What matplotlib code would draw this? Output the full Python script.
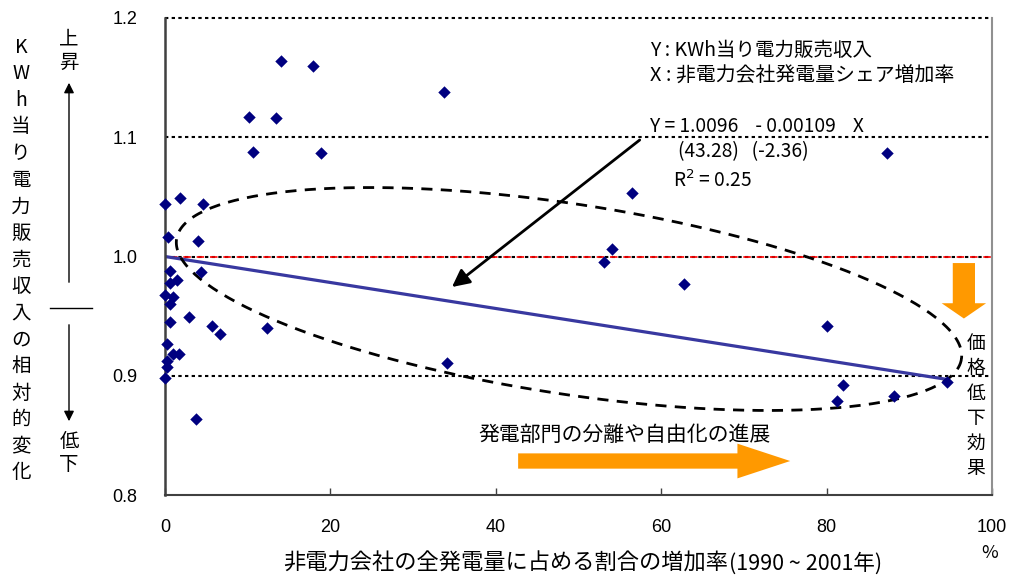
import numpy as np
import matplotlib
matplotlib.use("Agg")
import matplotlib.pyplot as plt
from matplotlib.lines import Line2D
from matplotlib.patches import FancyArrowPatch

plt.rcParams['font.family'] = ['Noto Sans CJK JP', 'DejaVu Sans']

# increase in non-utility share of generation (%), and relative revenue per kWh
share_increase = [0.0, 1.8, 4.6, 0.4, 4.0, 0.6, 4.4, 1.4, 0.6, 0.0, 1.0, 0.6,
                  0.6, 2.9, 5.7, 6.6, 0.2, 1.0, 1.7, 0.2, 0.2, 0.0, 3.8,
                  10.1, 13.4, 14.0, 17.9, 10.6, 18.9, 33.7, 12.3, 34.1,
                  53.1, 54.0, 56.5, 62.7, 80.0, 81.2, 82.0, 88.2, 87.3, 94.5]
revenue_ratio = [1.044, 1.049, 1.044, 1.016, 1.013, 0.988, 0.987, 0.980, 0.978, 0.968, 0.966, 0.960,
                 0.945, 0.949, 0.942, 0.935, 0.927, 0.918, 0.918, 0.912, 0.907, 0.898, 0.864,
                 1.117, 1.116, 1.164, 1.160, 1.088, 1.087, 1.138, 0.940, 0.911,
                 0.995, 1.006, 1.053, 0.977, 0.942, 0.879, 0.892, 0.883, 1.087, 0.895]

# regression result
intercept = 1.0096
slope = -0.00109
t_values = [43.28, -2.36]
r_squared = 0.25
line_base = 1.0

x_ticks = [0, 20, 40, 60, 80, 100]
y_ticks = [0.8, 0.9, 1.0, 1.1, 1.2]
y_tick_labels = ['0.8', '0.9', '1.0', '1.1', '1.2']

W, H = 1012, 578
fig = plt.figure(figsize=(W / 100, H / 100), dpi=100)

# axes box in pixels (left, top, right, bottom)
AX_L, AX_T, AX_R, AX_B = 165, 18, 992, 495
ax = fig.add_axes([AX_L / W, 1 - AX_B / H, (AX_R - AX_L) / W, (AX_B - AX_T) / H])
ax.set_xlim(0, 100)
ax.set_ylim(0.8, 1.2)
px_x = (AX_R - AX_L) / 100.0
px_y = (AX_B - AX_T) / 0.4


def fpos(x, y):
    return x / W, 1 - y / H


def ftext(x, y, s, **kw):
    kw.setdefault('ha', 'center')
    kw.setdefault('va', 'center')
    fig.text(*fpos(x, y), s, **kw)


# horizontal reference lines
for yv in [0.9, 1.0, 1.1, 1.2]:
    ax.axhline(yv, color='black', lw=1.5, ls=(0, (1.6, 1.6)), zorder=1, clip_on=False)
ax.plot([0.6, 100], [1.0, 1.0], color='red', lw=1.2, ls=(0, (4.5, 3.5)), zorder=1.5)

# fitted line
fit_x = np.array([0, max(share_increase)])
ax.plot(fit_x, line_base + slope * fit_x, color='#3838a0', lw=2.3, zorder=2)

# data points
ax.scatter(share_increase, revenue_ratio, marker='D', s=40, color='#000080',
           zorder=4, clip_on=False, linewidths=0)

# dashed ellipse around the spreading cluster
t = np.linspace(0, 2 * np.pi, 300)
a_px, b_px, ang = 397.0, 95.0, np.deg2rad(8.7)
u, v = a_px * np.cos(t), b_px * np.sin(t)
dx = u * np.cos(ang) - v * np.sin(ang)
dy = u * np.sin(ang) + v * np.cos(ang)
cx, cy = (569 - AX_L) / px_x, 0.8 + (AX_B - 299) / px_y
ax.plot(cx + dx / px_x, cy - dy / px_y, color='black', lw=2.0,
        ls=(0, (4, 3)), zorder=3, clip_on=False)

# black arrow from the equation to the fitted line
ax.annotate('', xy=(34.7, 0.9744), xytext=(57.4, 1.0977),
            arrowprops=dict(arrowstyle='-|>,head_length=0.7,head_width=0.35',
                            mutation_scale=15, color='black', lw=2.0,
                            shrinkA=0, shrinkB=0), zorder=5)

# orange arrows
orange = '#ff9900'
ax.annotate('', xy=(75.6, 0.8285), xytext=(42.7, 0.8285),
            arrowprops=dict(arrowstyle='simple,head_length=38,head_width=25,tail_width=11',
                            mutation_scale=1, color=orange, lw=0,
                            shrinkA=0, shrinkB=0), zorder=5)
ax.annotate('', xy=(96.6, 0.9480), xytext=(96.6, 0.9945),
            arrowprops=dict(arrowstyle='simple,head_length=11,head_width=32,tail_width=16',
                            mutation_scale=1, color=orange, lw=0,
                            shrinkA=0, shrinkB=0), zorder=5)

# axes styling
ax.spines['top'].set_visible(False)
ax.spines['left'].set_color('#404040')
ax.spines['left'].set_linewidth(1.8)
ax.spines['bottom'].set_color('#404040')
ax.spines['bottom'].set_linewidth(1.5)
ax.spines['right'].set_color('#909090')
ax.spines['right'].set_linewidth(1.5)
ax.set_xticks(x_ticks)
ax.set_yticks(y_ticks)
ax.set_yticklabels(y_tick_labels)
ax.tick_params(axis='x', direction='in', length=5, width=1, color='#404040',
               pad=17, labelsize=13)
ax.tick_params(axis='y', length=0, pad=20, labelsize=13)
for lab in ax.get_xticklabels() + ax.get_yticklabels():
    lab.set_family(['Liberation Sans', 'DejaVu Sans'])

# annotations inside the plot
ftext(624, 435, '発電部門の分離や自由化の進展', fontsize=15)
ftext(976, 406, '\n'.join('価格低下効果'), fontsize=13.5, linespacing=1.26)
ftext(650, 50, 'Y : KWh当り電力販売収入', fontsize=14, ha='left')
ftext(650, 76, 'X : 非電力会社発電量シェア増加率', fontsize=14.3, ha='left')
ftext(650, 126, 'Y = %.4f    - %.5f    X' % (intercept, -slope), fontsize=13.8, ha='left')
ftext(678, 152, '(%.2f)   (%.2f)' % (t_values[0], t_values[1]), fontsize=13.8, ha='left')
ftext(673, 181, 'R$^{2}$ = %.2f' % r_squared, fontsize=13.8, ha='left')

# y axis description with up/down arrows
ftext(21, 260, '\n'.join('KWh当り電力販売収入の相対的変化'), fontsize=14, linespacing=1.35)
ftext(69, 51, '上\n昇', fontsize=14, linespacing=1.13)
ftext(69, 453, '低\n下', fontsize=14, linespacing=1.13)
fig.add_artist(Line2D([50 / W, 92 / W], [1 - 308 / H, 1 - 308 / H],
                      color='black', lw=1.0, transform=fig.transFigure))
fig.add_artist(FancyArrowPatch(
    fpos(69, 285), fpos(69, 80), transform=fig.transFigure,
    arrowstyle='-|>,head_length=4,head_width=2', mutation_scale=1.5,
    color='black', lw=1.0))
fig.add_artist(FancyArrowPatch(
    fpos(69, 322), fpos(69, 424), transform=fig.transFigure,
    arrowstyle='-|>,head_length=4,head_width=2', mutation_scale=1.5,
    color='black', lw=1.0))

# x axis description
ftext(728, 563, '非電力会社の全発電量に占める割合の増加率', fontsize=16, ha='right')
ftext(729, 564, '(1990 ~ 2001年)', fontsize=15.5, ha='left')
ftext(990, 553, '%', fontsize=13)

fig.savefig('out.png', dpi=100)
